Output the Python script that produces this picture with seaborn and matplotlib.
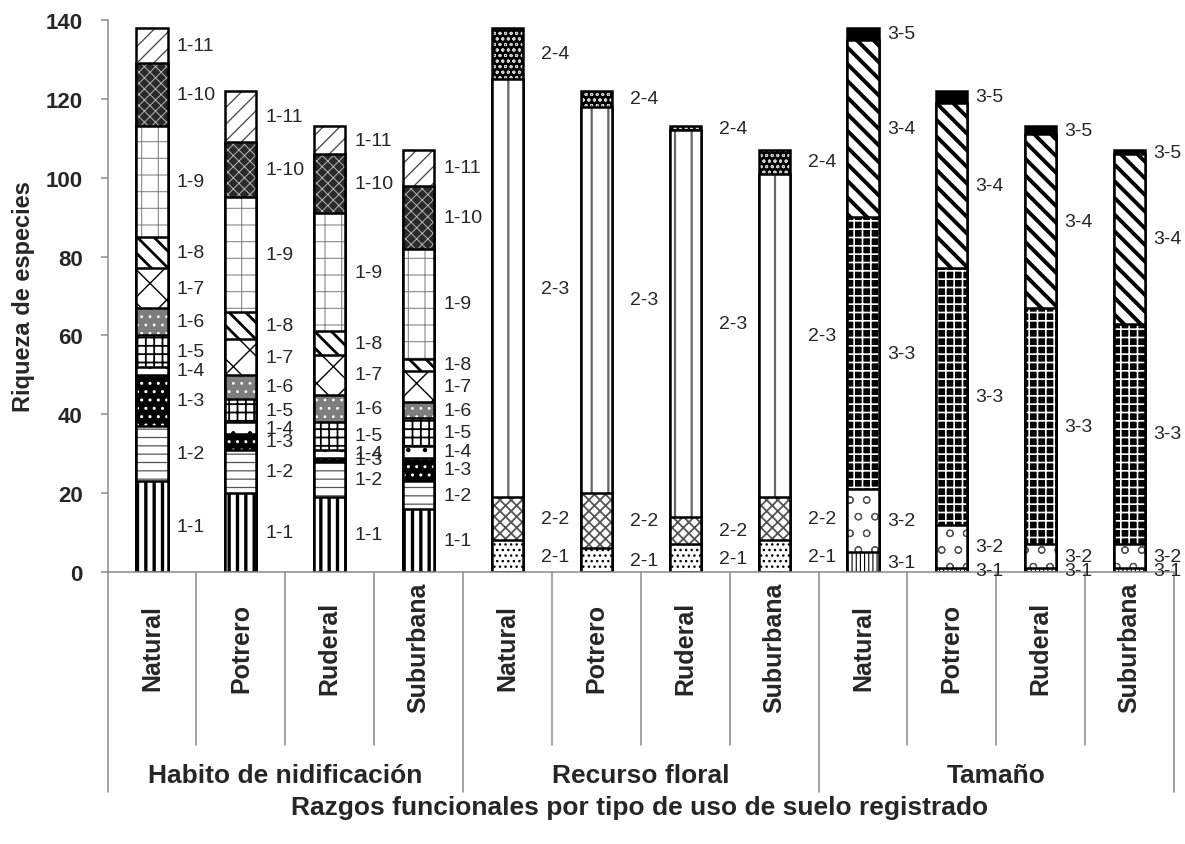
import numpy as np
import pandas as pd
import seaborn as sns
import matplotlib.pyplot as plt
from matplotlib import transforms

# %% Data
usos = ['Natural', 'Potrero', 'Ruderal', 'Suburbana']
grupos = ['Habito de nidificación', 'Recurso floral', 'Tamaño']

# Habito de nidificación (rows = rasgo, cols = Natural, Potrero, Ruderal, Suburbana)
nid_labels = ['1-1', '1-2', '1-3', '1-4', '1-5', '1-6', '1-7', '1-8', '1-9', '1-10', '1-11']
nid_vals = [[23, 20, 19, 16],
            [14, 11, 9, 7],
            [13, 4, 1, 6],
            [2, 3, 2, 3],
            [8, 6, 7, 7],
            [7, 6, 7, 4],
            [10, 9, 10, 8],
            [8, 7, 6, 3],
            [28, 29, 30, 28],
            [16, 14, 15, 16],
            [9, 13, 7, 9]]

# Recurso floral
flo_labels = ['2-1', '2-2', '2-3', '2-4']
flo_vals = [[8, 6, 7, 8],
            [11, 14, 7, 11],
            [106, 98, 98, 82],
            [13, 4, 1, 6]]

# Tamaño
tam_labels = ['3-1', '3-2', '3-3', '3-4', '3-5']
tam_vals = [[5, 1, 1, 1],
            [16, 11, 6, 6],
            [69, 65, 60, 56],
            [45, 42, 44, 43],
            [3, 3, 2, 1]]

yticks = [0, 20, 40, 60, 80, 100, 120, 140]

# %% Styles: (facecolor, hatch color, hatch, hatch linewidth)
styles = {
    '1-1': ('white', 'black', '||', 2.4),
    '1-2': ('white', '#555555', '--', 0.9),
    '1-3': ('black', 'white', '..', 1.0),
    '1-4': ('white', 'black', '.', 0.8),
    '1-5': ('white', 'black', '++', 1.3),
    '1-6': ('#7d7d7d', 'white', '..', 0.8),
    '1-7': ('white', 'black', 'x', 1.0),
    '1-8': ('white', 'black', '\\\\', 2.0),
    '1-9': ('white', '#8a8a8a', '+', 0.8),
    '1-10': ('#2a2a2a', '#b5b5b5', 'xxx', 0.7),
    '1-11': ('white', '#444444', '//', 0.9),
    '2-1': ('white', 'black', '...', 1.0),
    '2-2': ('white', '#555555', 'xxx', 1.3),
    '2-3': ('white', '#666666', '|', 1.6),
    '2-4': ('black', '#cfcfcf', 'ooo', 0.7),
    '3-1': ('white', 'black', '||||', 0.8),
    '3-2': ('white', '#555555', 'o', 0.8),
    '3-3': ('black', 'white', '--||', 1.2),
    '3-4': ('white', 'black', '\\\\', 2.8),
    '3-5': ('black', 'black', None, 1.0),
}
label_offset = [6.5, 13, 6]   # points to the right of each bar, per group

sns.set_style('white')
plt.rcParams['font.family'] = ['Liberation Sans', 'DejaVu Sans']

fig = plt.figure(figsize=(11.85, 8.45), dpi=100)
ax = fig.add_axes([107.6 / 1185, 1 - 573 / 845, (1174 - 107.6) / 1185, 552 / 845])

keys = [g + '|' + u for g in grupos for u in usos]
bar_w = 0.35

# %% Stacked bars (drawn top segment first, lower segments paint over)
for gi, (labs, vals) in enumerate([(nid_labels, nid_vals), (flo_labels, flo_vals), (tam_labels, tam_vals)]):
    vals = np.array(vals)
    tops = vals.cumsum(axis=0)
    cats = keys[gi * 4:(gi + 1) * 4]
    for k in reversed(range(len(labs))):
        fc, hc, hatch, hlw = styles[labs[k]]
        df = pd.DataFrame({'cat': cats, 'top': tops[k]})
        n0 = len(ax.patches)
        sns.barplot(data=df, x='cat', y='top', order=keys, color=fc, saturation=1,
                    width=bar_w, errorbar=None, hatch=hatch, edgecolor=hc,
                    linewidth=0, ax=ax)
        for p in ax.patches[n0:]:
            if hasattr(p, 'set_hatch_linewidth'):
                p.set_hatch_linewidth(hlw)
        sns.barplot(data=df, x='cat', y='top', order=keys, fill=False,
                    width=bar_w, errorbar=None, edgecolor='black',
                    linewidth=1.8, ax=ax)

    # segment labels
    for j in range(4):
        xi = gi * 4 + j
        for k in range(len(labs)):
            ymid = tops[k, j] - vals[k, j] / 2
            ax.annotate(labs[k], xy=(xi + bar_w / 2, ymid), xytext=(label_offset[gi], 0),
                        textcoords='offset points', ha='left', va='center', fontsize=14)

# %% Axes
ax.set_xlim(-0.5, 11.5)
ax.set_ylim(0, 140)
ax.set_yticks(yticks)
ax.set_xticks([])
ax.set_xlabel('')
ax.set_ylabel('')
for s in ['top', 'right']:
    ax.spines[s].set_visible(False)
for s in ['left', 'bottom']:
    ax.spines[s].set_color('#8a8a8a')
    ax.spines[s].set_linewidth(1.1)
ax.tick_params(axis='y', which='major', length=5, width=1.1, color='#8a8a8a',
               left=True, pad=13, labelsize=16)
for t in ax.get_yticklabels():
    t.set_fontweight('bold')

# multi-level category axis
trans = transforms.blended_transform_factory(ax.transData, ax.transAxes)
for xb in np.arange(-0.5, 12, 1):
    outer = (xb + 0.5) % 4 == 0
    ax.plot([xb, xb], [0, -0.3986 if outer else -0.3134], transform=trans,
            color='#8a8a8a', lw=1.1, clip_on=False)
for i, key in enumerate(keys):
    ax.text(i, -0.136, key.split('|')[1], transform=trans, rotation=90,
            ha='center', va='center', fontsize=18, fontweight='bold')
for gi, g in enumerate(grupos):
    ax.text(gi * 4 + 1.5, -0.3678, g, transform=trans, ha='center', va='center',
            fontsize=19, fontweight='bold')

fig.text(640 / 1185, 1 - 808 / 845, 'Razgos funcionales por tipo de uso de suelo registrado',
         ha='center', va='center', fontsize=19, fontweight='bold')
fig.text(24 / 1185, 1 - 297 / 845, 'Riqueza de especies', rotation=90,
         ha='center', va='center', fontsize=17, fontweight='bold')

fig.savefig('out.png', dpi=100, facecolor='white')
